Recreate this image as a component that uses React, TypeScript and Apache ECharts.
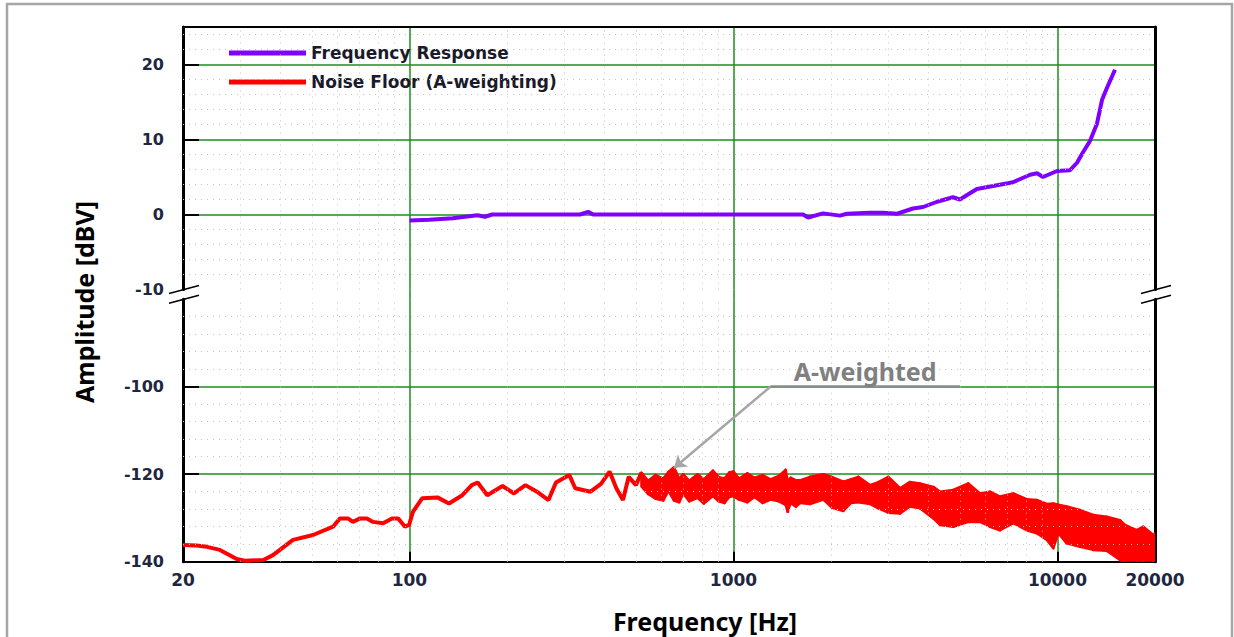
import React, { useEffect, useRef } from "react";
import * as echarts from "echarts";

// ---------- data ----------
const FREQ_RESP_HZ = [100, 115, 136, 162, 171, 180, 336, 356, 369, 1640, 1700, 1890, 2130, 2240, 2640, 2900, 3200, 3580, 3850, 4250, 4760, 5000, 5260, 5640, 6330, 7290, 8230, 8650, 9020, 9970, 10930, 11490, 11990, 12600, 13240, 13730, 14220, 15050];
const FREQ_RESP_DBV = [-0.8, -0.7, -0.5, -0.1, -0.3, 0, 0, 0.35, 0, 0, -0.4, 0.15, -0.15, 0.1, 0.25, 0.25, 0.1, 0.8, 1.0, 1.7, 2.3, 2.0, 2.6, 3.4, 3.8, 4.3, 5.3, 5.5, 5.0, 5.8, 5.9, 6.9, 8.3, 9.8, 12.1, 15.3, 16.9, 19.3];

const NOISE_LF_HZ = [20, 22, 23.7, 26, 29.3, 31, 35.4, 37.9, 43.7, 50.4, 58.1, 61, 64.6, 66.9, 70.4, 73.9, 77.2, 82.9, 88.3, 92.2, 96.9, 99.7, 102.5, 109.4, 122, 132.4, 145.6, 155.7, 162.4, 173.8, 193.7, 210.2, 228, 247.4, 268.6, 283.2, 311.6, 324.8, 362, 390, 414.6, 435, 456, 475, 500, 520];
const NOISE_LF_DBV = [-136.2, -136.3, -136.6, -137.3, -139.4, -139.8, -139.6, -138.5, -135, -133.9, -132, -130.1, -130.1, -130.9, -130.1, -130.1, -130.9, -131.2, -130.1, -130.1, -132, -131.6, -128.6, -125.5, -125.3, -126.7, -124.8, -122.5, -121.9, -124.8, -122.7, -124.4, -122.5, -124, -125.9, -121.9, -120.2, -123.2, -124, -122.2, -119.4, -123.2, -125.9, -120.6, -122.5, -119.6];

const BAND_HZ = [520, 545, 575, 607, 630, 655, 680, 700, 730, 775, 810, 864, 900, 938, 970, 1000, 1040, 1104, 1160, 1231, 1300, 1380, 1449, 1470, 1500, 1560, 1605, 1722, 1894, 2010, 2183, 2300, 2428, 2638, 2800, 3006, 3266, 3500, 3765, 4139, 4341, 4770, 5306, 5768, 6191, 6649, 7305, 8036, 8628, 9263, 9710, 10058, 10681, 11739, 12902, 14188, 15596, 16158, 17560, 18404, 19760, 20000];
const BAND_UPPER = [-119.6, -121.5, -120.2, -121.0, -119.5, -118.4, -121.0, -120.0, -121.5, -120.0, -121.2, -119.2, -120.6, -121.0, -119.6, -119.4, -121.0, -119.8, -120.8, -120.2, -121.2, -120.4, -119.0, -121.6, -120.8, -121.4, -121.4, -120.6, -120.0, -120.6, -121.7, -121.2, -120.6, -122.5, -121.8, -120.6, -123.2, -121.8, -122.1, -122.9, -124.0, -123.6, -122.1, -124.4, -124.0, -125.1, -124.4, -125.7, -125.9, -126.8, -126.7, -127.0, -127.4, -128.2, -129.3, -129.7, -130.5, -131.6, -132.8, -132.0, -133.9, -133.5];
const BAND_LOWER = [-122.8, -124.5, -125.6, -126.0, -123.8, -126.0, -126.4, -124.4, -126.2, -125.4, -126.7, -125.0, -126.2, -126.6, -125.2, -125.0, -125.8, -126.4, -125.2, -126.6, -125.8, -126.2, -127.0, -128.6, -126.6, -127.4, -126.6, -126.8, -125.8, -127.6, -128.4, -126.6, -126.4, -126.8, -127.8, -128.8, -129.0, -127.4, -127.8, -130.1, -131.6, -132.0, -130.9, -130.9, -132.0, -132.8, -131.2, -132.8, -133.5, -135.0, -136.9, -133.5, -135.8, -136.6, -137.3, -137.5, -139.6, -141.0, -142.0, -142.0, -142.0, -142.0];

const MINOR_X_HZ = [30, 40, 50, 60, 70, 80, 90, 200, 300, 400, 500, 600, 700, 800, 900, 2000, 3000, 4000, 5000, 6000, 7000, 8000, 9000];
const MINOR_Y_TOP = [24, 22, 18, 16, 14, 12, 8, 6, 4, 2, -2, -4, -6, -8];
const MINOR_Y_BOTTOM = [-84, -88, -92, -96, -104, -108, -112, -116, -124, -128, -132, -136];

const Y_LABELS_TOP = [-10, 0, 10, 20];
const Y_TICKS_TOP = [0, 10, 20];
const Y_LABELS_BOTTOM = [-140, -120, -100];
const Y_TICKS_BOTTOM = [-120, -100];

const ANNOT_START = [1300, -100];
const ANNOT_TIP = [655, -118.6];
const ANNOT_END = [5000, -100];

const SERIES_FR = "Frequency Response";
const SERIES_NF = "Noise Floor (A-weighting)";

// ---------- layout / style ----------
const GRID_LEFT = 183;
const GRID_WIDTH = 972;
const TOP_GRID_TOP = 27;
const TOP_GRID_H = 262.5;
const BOT_GRID_TOP = 299.2;
const BOT_GRID_H = 262.5;
const GREEN = "#1d8f1d";
const MINOR = "#c4c4c4";
const LABEL_COLOR = "#1e2640";
const TICK_FONT = "DejaVu Sans";
const TITLE_FONT = "Noto Sans";
const RED = "#ff0000";
const PURPLE = "#8000ff";

const zip = (xs: number[], ys: number[]) => xs.map((x, i) => [x, ys[i]]);

export default function App() {
  const ref = useRef<HTMLDivElement>(null);

  useEffect(() => {
    if (!ref.current) return;
    const chart = echarts.init(ref.current, undefined, { renderer: "svg" });

    const greenSplit = (showMin: boolean, showMax: boolean) => ({
      show: true,
      showMinLine: showMin,
      showMaxLine: showMax,
      lineStyle: { color: GREEN, width: 1.5 },
    });

    const logX = (gridIndex: number, extra: any) => ({
      type: "log",
      logBase: 10,
      min: 20,
      max: 20000,
      gridIndex,
      ...extra,
    });

    // left axis: line, inner ticks and labels only
    const leftY = (gridIndex: number, min: number, max: number, interval: number, labels: number[], ticks: number[]) => ({
      type: "value",
      gridIndex,
      min,
      max,
      interval,
      position: "left",
      axisLine: { show: true, onZero: false, lineStyle: { color: "#000", width: 3 } },
      axisTick: { show: true, inside: true, length: 16, customValues: ticks, lineStyle: { color: "#000", width: 2 } },
      axisLabel: {
        show: true,
        margin: 19,
        customValues: labels,
        color: LABEL_COLOR,
        fontFamily: TICK_FONT,
        fontWeight: "bold",
        fontSize: 16,
      },
      splitLine: { show: false },
    });

    // right axis: frame line plus the major green grid lines
    const rightY = (gridIndex: number, min: number, max: number, interval: number, showMax: boolean) => ({
      type: "value",
      gridIndex,
      min,
      max,
      interval,
      position: "right",
      axisLine: { show: true, onZero: false, lineStyle: { color: "#000", width: 3 } },
      axisTick: { show: false },
      axisLabel: { show: false },
      splitLine: greenSplit(false, showMax),
    });

    const minorMarkLine = (xs: number[], ys: number[]) => ({
      silent: true,
      symbol: "none",
      label: { show: false },
      emphasis: { disabled: true },
      lineStyle: { color: MINOR, width: 1, type: [1, 5] },
      data: [...xs.map((v) => ({ xAxis: v })), ...ys.map((v) => ({ yAxis: v }))],
    });

    const bandSegments = BAND_HZ.slice(0, -1).map((f, i) => [
      f,
      BAND_UPPER[i],
      BAND_LOWER[i],
      BAND_HZ[i + 1],
      BAND_UPPER[i + 1],
      BAND_LOWER[i + 1],
    ]);

    const breakLines: any[] = [];
    [GRID_LEFT, GRID_LEFT + GRID_WIDTH].forEach((ax) => {
      breakLines.push({
        type: "line",
        z: 50,
        shape: { x1: ax - 14, y1: 293.5, x2: ax + 16, y2: 285.5 },
        style: { stroke: "#000", lineWidth: 1.5 },
      });
      breakLines.push({
        type: "line",
        z: 50,
        shape: { x1: ax - 14, y1: 303.3, x2: ax + 16, y2: 295.3 },
        style: { stroke: "#000", lineWidth: 1.5 },
      });
    });

    const option: any = {
      animation: false,
      backgroundColor: "#ffffff",
      grid: [
        { left: GRID_LEFT, width: GRID_WIDTH, top: TOP_GRID_TOP, height: TOP_GRID_H, outerBoundsMode: "none" },
        { left: GRID_LEFT, width: GRID_WIDTH, top: BOT_GRID_TOP, height: BOT_GRID_H, outerBoundsMode: "none" },
        { left: GRID_LEFT, width: GRID_WIDTH, top: TOP_GRID_TOP + TOP_GRID_H, height: BOT_GRID_TOP - TOP_GRID_TOP - TOP_GRID_H, outerBoundsMode: "none" },
      ],
      xAxis: [
        logX(0, {
          position: "top",
          axisLine: { show: true, onZero: false, lineStyle: { color: "#000", width: 2 } },
          axisTick: { show: false },
          axisLabel: { show: false },
          splitLine: greenSplit(false, false),
        }),
        logX(1, {
          position: "bottom",
          axisLine: { show: true, onZero: false, lineStyle: { color: "#000", width: 2 } },
          axisTick: { show: true, inside: true, length: 10, lineStyle: { color: "#000", width: 2 } },
          axisLabel: {
            show: true,
            margin: 10,
            formatter: (v: number) => String(Math.round(v)),
            color: LABEL_COLOR,
            fontFamily: TICK_FONT,
            fontWeight: "bold",
            fontSize: 17,
          },
          splitLine: greenSplit(false, false),
        }),
        logX(2, {
          axisLine: { show: false },
          axisTick: { show: false },
          axisLabel: { show: false },
          splitLine: greenSplit(false, false),
        }),
      ],
      yAxis: [
        leftY(0, -10, 25, 10, Y_LABELS_TOP, Y_TICKS_TOP),
        rightY(0, -10, 25, 10, true),
        leftY(1, -140, -80, 20, Y_LABELS_BOTTOM, Y_TICKS_BOTTOM),
        rightY(1, -140, -80, 20, false),
        { type: "value", gridIndex: 2, min: 0, max: 1, show: false },
      ],
      legend: {
        show: true,
        orient: "vertical",
        left: 229,
        top: 44,
        padding: 0,
        itemGap: 11,
        itemWidth: 77,
        itemHeight: 5,
        icon: "rect",
        selectedMode: false,
        textStyle: { fontFamily: TICK_FONT, fontWeight: "bold", fontSize: 17, color: "#1a1a2a", lineHeight: 18 },
        data: [
          { name: SERIES_FR, itemStyle: { color: PURPLE } },
          { name: SERIES_NF, itemStyle: { color: RED } },
        ],
      },
      series: [
        {
          type: "line",
          xAxisIndex: 0,
          yAxisIndex: 0,
          data: [],
          z: 1,
          silent: true,
          markLine: minorMarkLine(MINOR_X_HZ, MINOR_Y_TOP),
        },
        {
          type: "line",
          xAxisIndex: 1,
          yAxisIndex: 2,
          data: [],
          z: 1,
          silent: true,
          markLine: minorMarkLine(MINOR_X_HZ, MINOR_Y_BOTTOM),
        },
        {
          name: SERIES_FR,
          type: "line",
          xAxisIndex: 0,
          yAxisIndex: 0,
          data: zip(FREQ_RESP_HZ, FREQ_RESP_DBV),
          symbol: "none",
          color: PURPLE,
          itemStyle: { color: PURPLE },
          lineStyle: { color: PURPLE, width: 4 },
          z: 3,
          silent: true,
        },
        {
          name: SERIES_NF,
          type: "line",
          xAxisIndex: 1,
          yAxisIndex: 2,
          data: zip(NOISE_LF_HZ, NOISE_LF_DBV),
          symbol: "none",
          color: RED,
          itemStyle: { color: RED },
          lineStyle: { color: RED, width: 4 },
          clip: true,
          z: 3,
          silent: true,
        },
        {
          name: SERIES_NF,
          type: "custom",
          coordinateSystem: "cartesian2d",
          xAxisIndex: 1,
          yAxisIndex: 2,
          data: bandSegments,
          encode: { x: [0, 3], y: [1, 2, 4, 5] },
          clip: true,
          silent: true,
          z: 3,
          color: RED,
          itemStyle: { color: RED },
          renderItem: (params: any, api: any) => {
            const p1 = api.coord([api.value(0), api.value(1)]);
            const p2 = api.coord([api.value(3), api.value(4)]);
            const p3 = api.coord([api.value(3), api.value(5)]);
            const p4 = api.coord([api.value(0), api.value(2)]);
            return {
              type: "polygon",
              shape: { points: [p1, p2, p3, p4] },
              style: { fill: RED, stroke: RED, lineWidth: 2.5, lineJoin: "round" },
            };
          },
        },
        {
          type: "line",
          xAxisIndex: 1,
          yAxisIndex: 2,
          data: [],
          z: 5,
          silent: true,
          markLine: {
            silent: true,
            symbol: ["none", "arrow"],
            symbolSize: 12,
            label: { show: false },
            emphasis: { disabled: true },
            lineStyle: { color: "#a6a6a6", width: 2.5, type: "solid" },
            itemStyle: { color: "#a6a6a6" },
            data: [[{ coord: ANNOT_START }, { coord: ANNOT_TIP }]],
          },
        },
        {
          type: "line",
          xAxisIndex: 1,
          yAxisIndex: 2,
          data: [],
          z: 5,
          silent: true,
          markLine: {
            silent: true,
            symbol: "none",
            emphasis: { disabled: true },
            lineStyle: { color: "#8c8c8c", width: 2.5, type: "solid" },
            label: {
              show: true,
              position: "insideMiddleTop",
              formatter: "A-weighted",
              color: "#808080",
              fontFamily: TITLE_FONT,
              fontWeight: "bold",
              fontSize: 25,
              distance: 3,
            },
            data: [[{ coord: ANNOT_START }, { coord: ANNOT_END }]],
          },
        },
      ],
      graphic: [
        {
          type: "rect",
          z: 100,
          silent: true,
          shape: { x: 7, y: 4, width: 1225, height: 660 },
          style: { fill: "none", stroke: "#a6a6a6", lineWidth: 2.5 },
        },
        {
          type: "text",
          z: 100,
          x: 84,
          y: 302,
          rotation: Math.PI / 2,
          style: {
            text: "Amplitude [dBV]",
            fill: "#000",
            fontFamily: TITLE_FONT,
            fontWeight: "bold",
            fontSize: 25,
            textAlign: "center",
            textVerticalAlign: "middle",
          },
        },
        {
          type: "text",
          z: 100,
          x: 705,
          y: 621,
          style: {
            text: "Frequency [Hz]",
            fill: "#000",
            fontFamily: TITLE_FONT,
            fontWeight: "bold",
            fontSize: 25,
            textAlign: "center",
            textVerticalAlign: "middle",
          },
        },
        ...breakLines,
      ],
    };

    chart.setOption(option);
    return () => chart.dispose();
  }, []);

  return (
    <div
      ref={ref}
      style={{ position: "fixed", left: 0, top: 0, width: 1234, height: 637, background: "#fff" }}
    />
  );
}
